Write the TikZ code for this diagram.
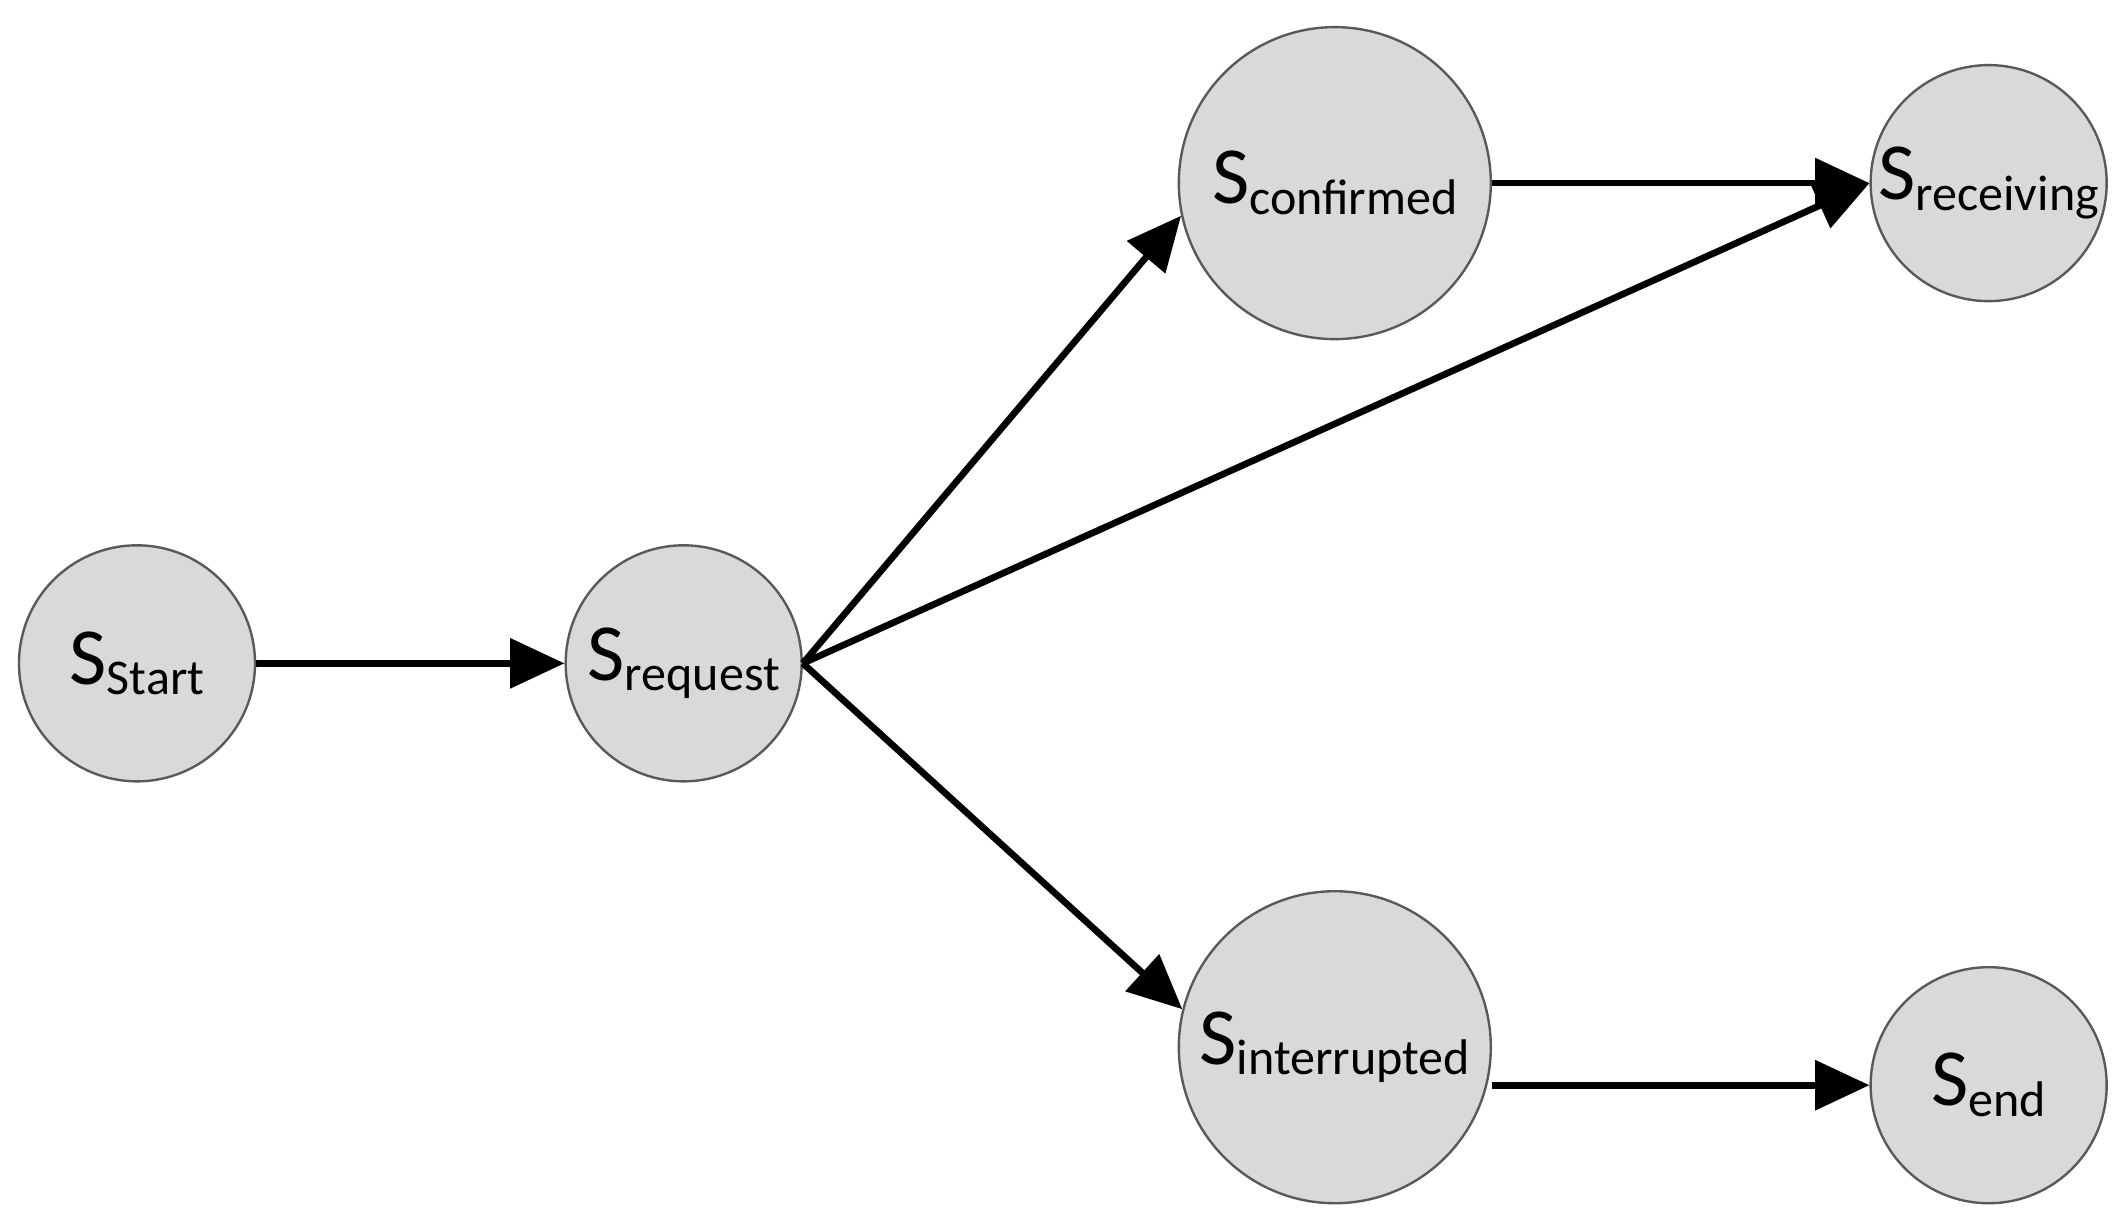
\documentclass[tikz,border=0pt]{standalone}
\usepackage{fontspec}
\setmainfont{Carlito}
\usetikzlibrary{arrows.meta}
\newcommand{\st}[1]{{\fontsize{17}{17}\selectfont S}{\fontsize{10.5}{10.5}\selectfont\raisebox{-0.45ex}{#1}}}
\begin{document}
\begin{tikzpicture}[-{Triangle[length=0.4cm,width=0.36cm]},line width=1.4pt,
  main/.style = {draw=black!65, line width=0.5pt, fill=black!15, circle, inner sep=0pt},
  small/.style = {main, minimum size=1.74cm},
  big/.style = {main, minimum size=2.3cm}]
\useasboundingbox (0,0) rectangle (15.68,9.06);
\node[small] (start) at (1.01,4.17) {\st{Start}};
\node[small] (req) at (5.04,4.17) {\st{request}};
\node[big] (conf) at (9.84,7.71) {\st{confirmed}};
\node[small] (recv) at (14.66,7.71) {\st{receiving}};
\node[big] (intr) at (9.84,1.34) {\st{interrupted}};
\node[small] (end) at (14.66,1.06) {\st{end}};

\draw (start) -- (req);
\draw (req.east) -- (conf.192);
\draw (req.east) -- (recv.west);
\draw (req.east) -- (intr.166);
\draw (conf.east) -- (recv.west);
\draw (intr.east |- end) -- (end);
\end{tikzpicture}
\end{document}
